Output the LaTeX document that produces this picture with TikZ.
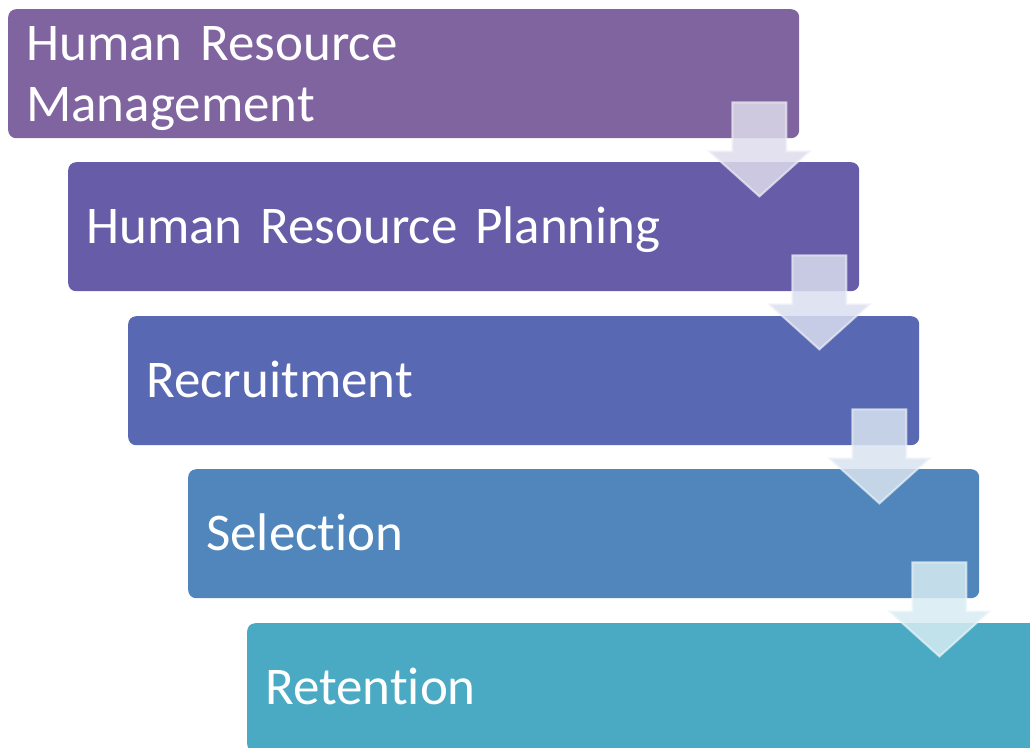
\documentclass[tikz,border=0pt]{standalone}
\usepackage{fontspec}
\setmainfont{Carlito}[RawFeature=-liga, WordSpace={0.7,0,0}]
\usetikzlibrary{calc}
\definecolor{stepA}{RGB}{128,100,160}
\definecolor{stepB}{RGB}{103,92,168}
\definecolor{stepC}{RGB}{88,104,178}
\definecolor{stepD}{RGB}{80,134,188}
\definecolor{stepE}{RGB}{74,170,196}
\begin{document}
\begin{tikzpicture}[x=1pt,y=-1pt,box/.style={rectangle, rounded corners=8pt, fill=#1, text=white, anchor=north west, minimum width=791pt, minimum height=129pt, text width=755pt, inner xsep=18pt, inner ysep=0pt, align=left, font=\fontsize{53}{61}\selectfont, text height=34pt, text depth=0pt}]
    \tikzset{flow/.style={fill=white!78!#1, fill opacity=0.85, draw=white!90!#1, draw opacity=0.7, line width=2pt, line join=miter}}
    \clip (0,0) rectangle (1030,747);
    \node[box=stepA, text depth=61pt] (hrm) at (8,9) {Human Resource\\Management};
    \node[box=stepB] (hrp) at (68,162) {Human Resource Planning};
    \node[box=stepC] (rec) at (128,316) {Recruitment};
    \node[box=stepD] (sel) at (188,469) {Selection};
    \node[box=stepE] (ret) at (247,623) {Retention};
    %block arrows sit on the lower right corner of each box
    \foreach \a/\c in {hrm/stepB, hrp/stepC, rec/stepD, sel/stepE} {
    \draw[flow=\c] ($(\a.south east)+(-67,-36)$) -- ++(54,0) -- ++(0,49) -- ++(23,0) -- ++(-50,45) -- ++(-50,-45) -- ++(23,0) -- cycle;
    }
\end{tikzpicture}
\end{document}
